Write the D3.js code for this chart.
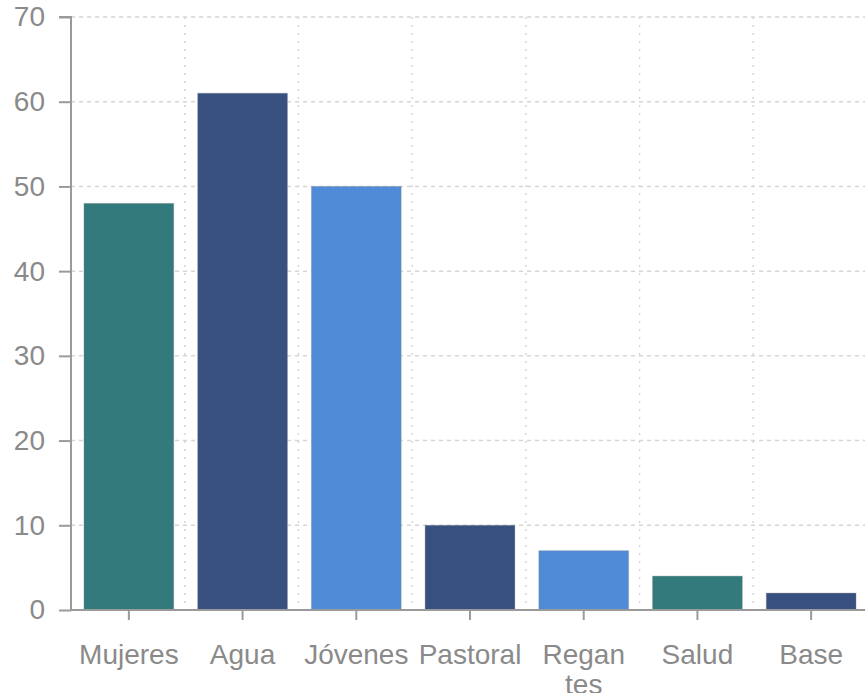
<!DOCTYPE html>
<html>
<head>
<meta charset="utf-8">
<script src="https://cdn.jsdelivr.net/npm/d3@7"></script>
<style>
  body { margin: 0; background: #fff; }
  svg { display: block; font-family: "Liberation Sans", Arial, sans-serif; }
</style>
</head>
<body>
<svg id="chart" width="865" height="693"></svg>
<script>
// data
var categories = ["Mujeres", "Agua", "Jóvenes", "Pastoral", "Regantes", "Salud", "Base"];
var labelLines = [["Mujeres"], ["Agua"], ["Jóvenes"], ["Pastoral"], ["Regan", "tes"], ["Salud"], ["Base"]];
var values = [48, 61, 50, 10, 7, 4, 2];
var barColors = ["#327a7b", "#37507f", "#508bd8", "#37507f", "#508bd8", "#327a7b", "#37507f"];
var yTicks = [0, 10, 20, 30, 40, 50, 60, 70];

var svg = d3.select("#chart");
var width = 865, height = 693;
var margin = { top: 17, right: -4, bottom: 83, left: 71 };

var x = d3.scaleBand()
  .domain(categories)
  .range([margin.left, width - margin.right])
  .paddingInner(24 / 114)
  .paddingOuter(13 / 114);

var y = d3.scaleLinear()
  .domain([0, 70])
  .range([height - margin.bottom, margin.top]);

var step = x.step();
var x0 = margin.left;

// grid - horizontal dashed
svg.append("g")
  .selectAll("line")
  .data(yTicks.slice(1))
  .join("line")
  .attr("x1", x0)
  .attr("x2", width)
  .attr("y1", d => y(d))
  .attr("y2", d => y(d))
  .attr("stroke", "#d6d6d6")
  .attr("stroke-width", 1.5)
  .attr("stroke-dasharray", "4,4");

// grid - vertical dotted at band boundaries
svg.append("g")
  .selectAll("line")
  .data(d3.range(1, categories.length))
  .join("line")
  .attr("x1", i => x0 + i * step)
  .attr("x2", i => x0 + i * step)
  .attr("y1", y(70))
  .attr("y2", y(0))
  .attr("stroke", "#d6d6d6")
  .attr("stroke-width", 1.5)
  .attr("stroke-dasharray", "2,6");

// bars
svg.append("g")
  .selectAll("rect")
  .data(values)
  .join("rect")
  .attr("x", (d, i) => x(categories[i]))
  .attr("y", d => y(d))
  .attr("width", x.bandwidth())
  .attr("height", d => y(0) - y(d))
  .attr("fill", (d, i) => barColors[i])
  .attr("stroke", "#8a8a8a")
  .attr("stroke-opacity", 0.35)
  .attr("stroke-width", 1);

// y axis
var yAxis = svg.append("g")
  .attr("transform", `translate(${x0},0)`)
  .call(d3.axisLeft(y).tickValues(yTicks).tickSize(12).tickPadding(14));
yAxis.select(".domain").attr("stroke", "#9a9a9a").attr("stroke-width", 2)
  .attr("d", `M-12,${y(70)}H0V${y(0)}`);
yAxis.selectAll(".tick line").attr("stroke", "#9a9a9a").attr("stroke-width", 2);
yAxis.selectAll(".tick text")
  .attr("fill", "#8a8a8a")
  .attr("font-size", "28px")
  .attr("font-family", "Liberation Sans, Arial, sans-serif");

// x axis
var xAxis = svg.append("g")
  .attr("transform", `translate(0,${y(0)})`)
  .call(d3.axisBottom(x).tickSize(10).tickPadding(24));
xAxis.select(".domain").attr("stroke", "#9a9a9a").attr("stroke-width", 2)
  .attr("d", `M${x0},0H${width}`);
xAxis.selectAll(".tick line").attr("stroke", "#9a9a9a").attr("stroke-width", 2);
xAxis.selectAll(".tick text")
  .attr("fill", "#8a8a8a")
  .attr("font-size", "28px")
  .attr("font-family", "Liberation Sans, Arial, sans-serif")
  .text(null)
  .each(function (d, i) {
    var t = d3.select(this);
    labelLines[i].forEach(function (line, k) {
      t.append("tspan")
        .attr("x", 0)
        .attr("dy", k === 0 ? "0.71em" : "1.07em")
        .text(line);
    });
  })
  .attr("dy", null);
</script>
</body>
</html>
